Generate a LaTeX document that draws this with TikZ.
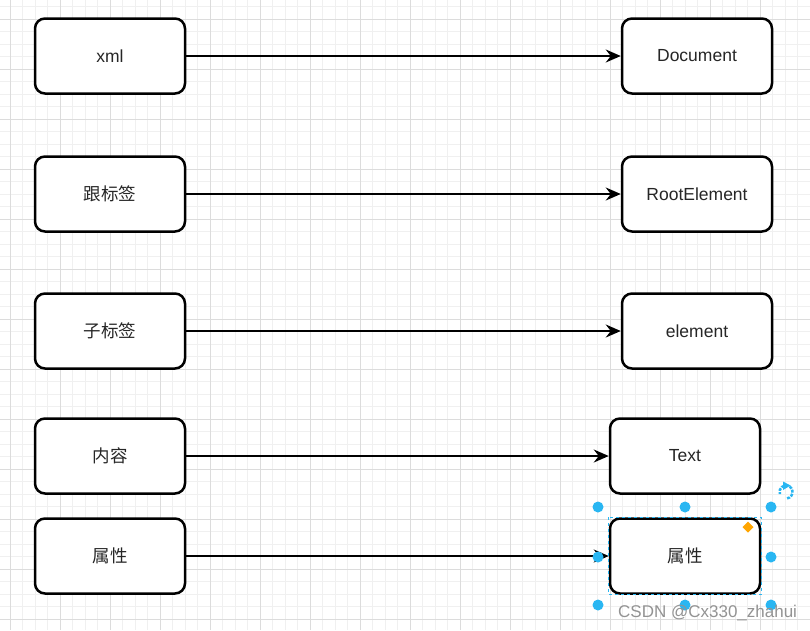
\documentclass[tikz,border=0pt]{standalone}
\usepackage{fontspec}
\setmainfont{Liberation Sans}
\newfontfamily\cjk{Noto Sans CJK SC}
\usetikzlibrary{arrows.meta}
\definecolor{gminor}{HTML}{F0F0F0}
\definecolor{gmajor}{HTML}{DCDCDC}
\definecolor{hblue}{HTML}{29B6F2}
\definecolor{horange}{HTML}{FFA500}
\tikzset{
  box/.style={draw=black, line width=2.5pt, rounded corners=10pt, fill=white,
    minimum width=150pt, minimum height=75pt, inner sep=0pt,
    font=\fontsize{17.5}{20}\selectfont, text=black!85},
  link/.style={line width=2pt, -{Stealth[length=15pt,width=13pt,inset=5pt]}},
}

\begin{document}
\begin{tikzpicture}[x=1pt,y=-1pt]
\useasboundingbox (0,0) rectangle (810,630);
\fill[white] (0,0) rectangle (810,630);
% grid
\foreach \x in {-2.5,10,...,810} {
    \draw[gminor,line width=1pt] (\x,0) -- (\x,630);
}
\foreach \y in {6.5,19,...,630} {
    \draw[gminor,line width=1pt] (0,\y) -- (810,\y);
}
\foreach \x in {10,60,...,810} {
    \draw[gmajor,line width=1pt] (\x,0) -- (\x,630);
}
\foreach \y in {19,69,...,630} {
    \draw[gmajor,line width=1pt] (0,\y) -- (810,\y);
}
% boxes
\node[box] (xml) at (110,56) {xml};
\node[box] (doc) at (697,56) {Document};
\node[box] (root) at (110,194) {{\cjk 跟标签}};
\node[box] (rootel) at (697,194) {RootElement};
\node[box] (child) at (110,331) {{\cjk 子标签}};
\node[box] (elem) at (697,331) {element};
\node[box] (content) at (110,456) {{\cjk 内容}};
\node[box] (text) at (685,456) {Text};
\node[box] (attr) at (110,556) {{\cjk 属性}};
\node[box] (attrr) at (685,556) {{\cjk 属性}};
% arrows
\draw[link] (xml) -- (doc);
\draw[link] (root) -- (rootel);
\draw[link] (child) -- (elem);
\draw[link] (content) -- (text);
\draw[link] (attr) -- (attrr);
% selection
\draw[hblue,line width=1pt,dashed] (attrr.north west) rectangle (attrr.south east);
\foreach \x in {598,685,771} {
    \foreach \y in {507,557,605} {
        \ifnum\x=685 \ifnum\y=557 \else \fill[hblue] (\x,\y) circle (5.5pt); \fi
        \else \fill[hblue] (\x,\y) circle (5.5pt); \fi
    }
}
\fill[horange] (748,521.5) -- (753.5,527) -- (748,532.5) -- (742.5,527) -- cycle;
\draw[hblue,line width=2.5pt,dash pattern=on 3pt off 1.2pt] (786,492) ++(80:6.5) arc (80:-200:6.5);
\fill[hblue] (783,481.5) -- (790.5,485.5) -- (783,490) -- cycle;
% watermark
\node[text=gray!85,font=\fontsize{17}{20}\selectfont,anchor=base west,inner sep=0pt] (mark) at (618,617) {CSDN @Cx330\_zhahui};
\end{tikzpicture}
\end{document}
